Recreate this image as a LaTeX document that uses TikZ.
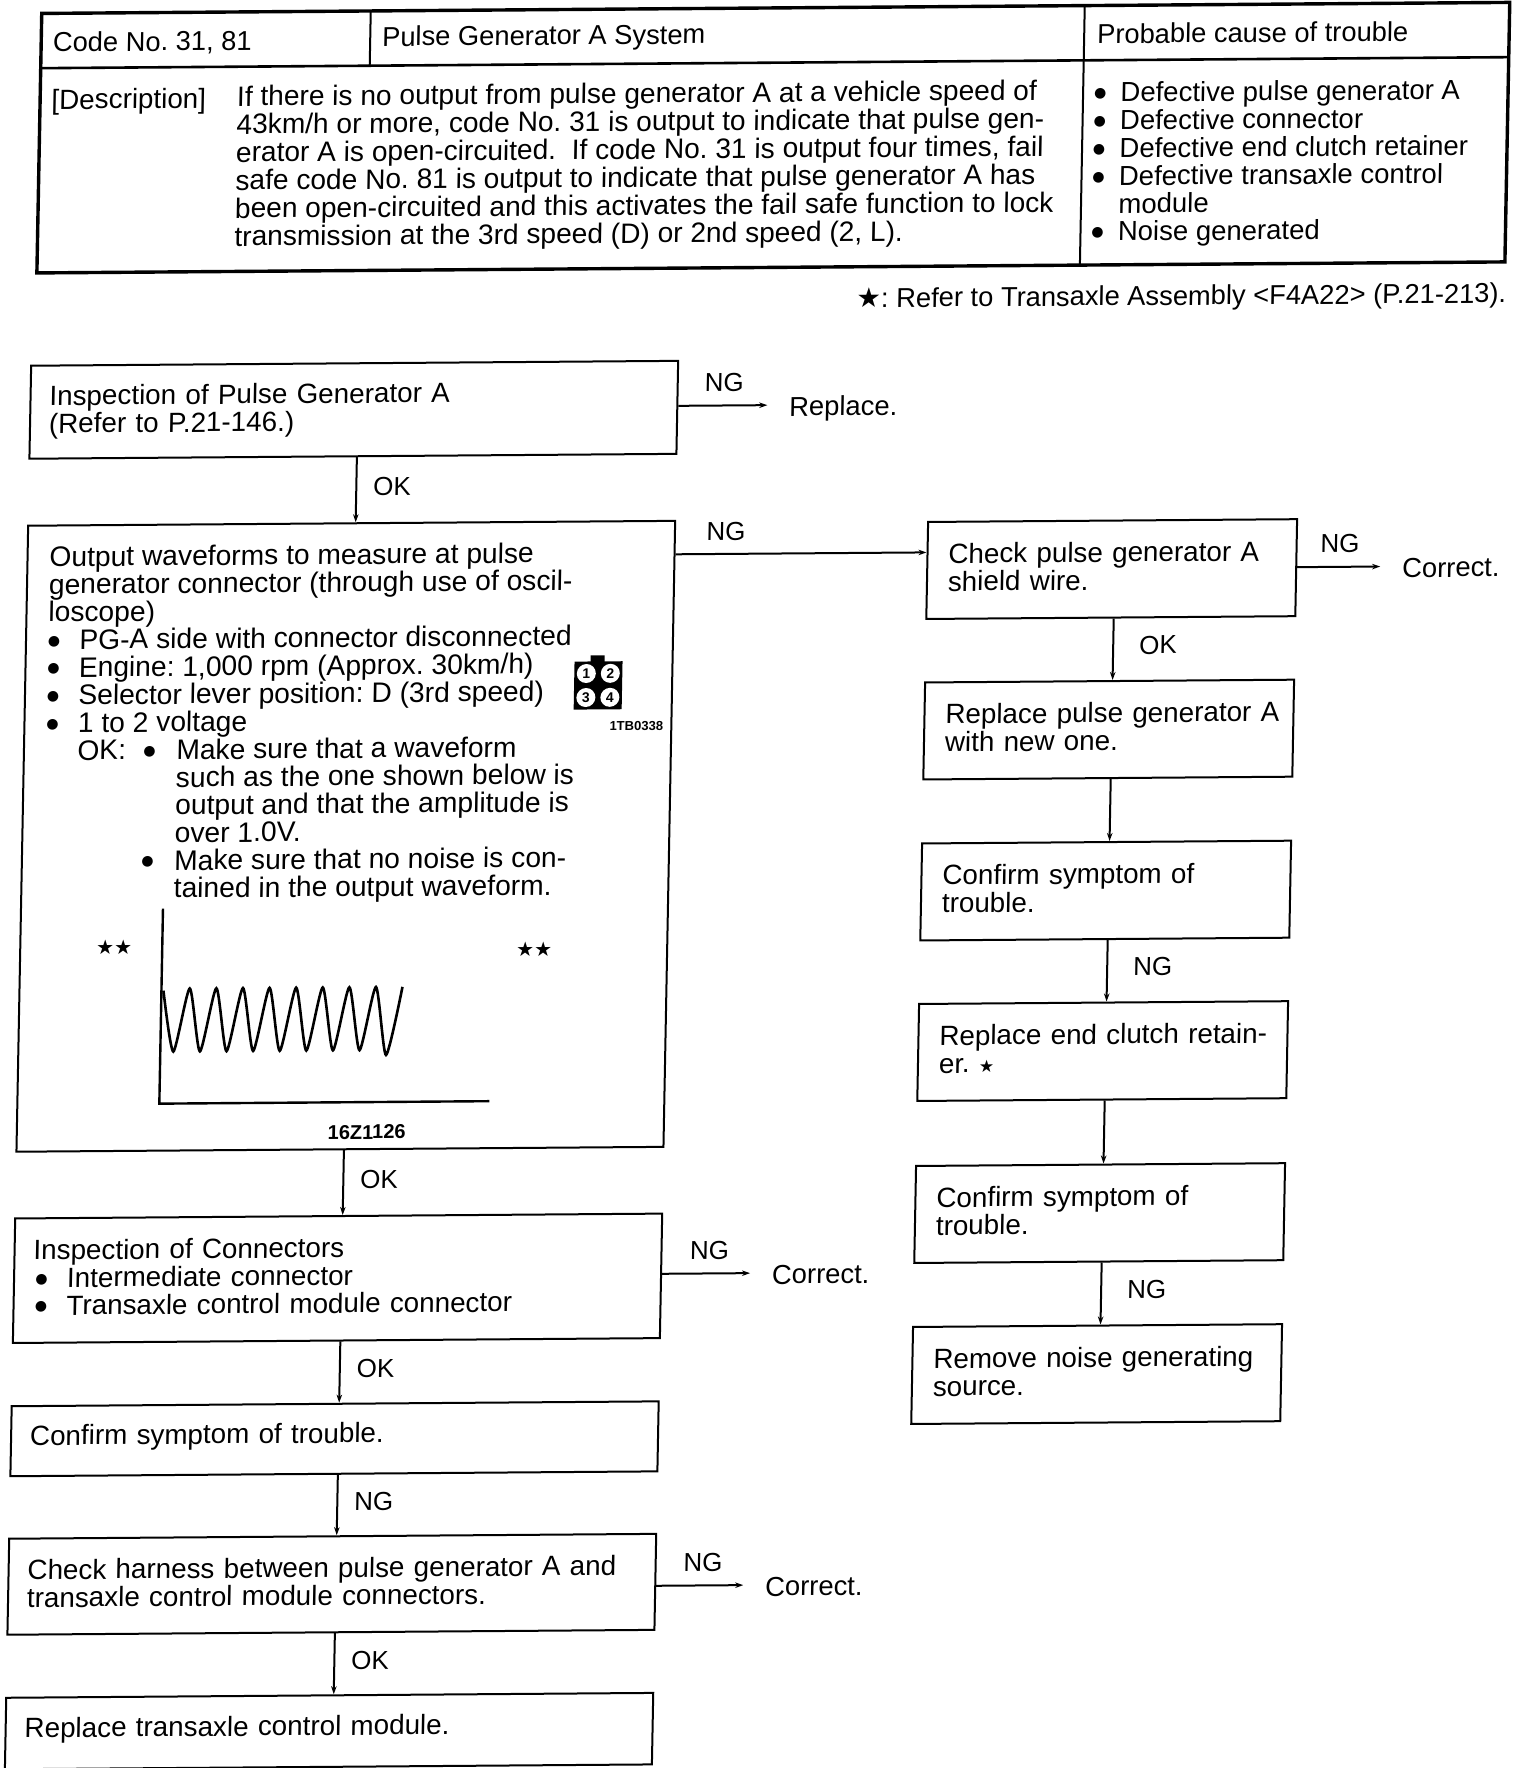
\documentclass[tikz,border=0pt]{standalone}
\usepackage{fontspec}
\setmainfont{Liberation Sans}
\newfontfamily\symfont{DejaVu Sans}
\usetikzlibrary{arrows.meta}
\newcommand{\dotmark}{\raisebox{4.5pt}{\symfont\fontsize{14}{14}\selectfont ●}}
\newcommand{\bul}{\makebox[31.5pt][l]{\dotmark}}
\newcommand{\subbul}{\makebox[33pt][l]{\dotmark}}
\newcommand{\causebul}{\makebox[26.5pt][l]{\dotmark}}
\newcommand{\blackstar}{{\symfont ★}}
\newcommand{\liftamt}{6pt}
\newcommand{\liftbox}{\par\vspace{\liftamt}}
\begin{document}
\frenchspacing
\begin{tikzpicture}[x=1pt, y=1pt, line width=2pt,
		font=\fontsize{27.8}{27.8}\selectfont,
		flowbox/.style={draw, align=left, inner ysep=0pt, inner xsep=19pt, anchor=center, execute at end node=\liftbox},
		leftbox/.style={flowbox, text width=609pt},
		rightbox/.style={flowbox, inner xsep=21pt, text width=327pt, minimum height=97pt},
		plaintext/.style={inner sep=0pt, align=left, anchor=north west},
		conn/.style={-{Stealth[length=8pt,width=5.5pt]}},
		lbl/.style={inner sep=0pt, font=\fontsize{26}{26}\selectfont},
		result/.style={inner sep=0pt, inner xsep=21pt, anchor=west, text height=22pt, text depth=0pt, font=\fontsize{27.4}{27.4}\selectfont}]
	\useasboundingbox (0,0) rectangle (1520,-1768);
	\begin{scope}[cm={1,0.0075,0.0187,1,(0,0)}, every node/.append style={transform shape}]
		% ---- header table ----
		\node[draw, line width=3.4pt, minimum width=1468pt, minimum height=259.5pt, inner sep=0pt] (hdr) at (776,-143.5) {};
		\draw[line width=2.6pt] (42,-68.5) -- (1510,-68.5);
		\draw[line width=2pt] (371,-13.5) -- (371,-68.5);
		\draw[line width=2pt] (1085,-13.5) -- (1085,-273);
		\node[lbl, anchor=west, font=\fontsize{27.3}{27.3}\selectfont] (hdrcode) at (52.8,-44) {Code No. 31, 81};
		\node[lbl, anchor=west, font=\fontsize{27.3}{27.3}\selectfont] (hdrname) at (382,-42) {Pulse Generator A System};
		\node[lbl, anchor=west, font=\fontsize{27.3}{27.3}\selectfont] (hdrcause) at (1097,-42) {Probable cause of trouble};
		\node[plaintext] (hdrdesc) at (52.5,-88.5) {[Description]};
		\node[plaintext, font=\fontsize{28.1}{28}\selectfont] (desctext) at (238,-86.5) {If there is no output from pulse generator A at a vehicle speed of\\
			43km/h or more, code No. 31 is output to indicate that pulse gen-\\
			erator A is open-circuited.\ \ If code No. 31 is output four times, fail\\
			safe code No. 81 is output to indicate that pulse generator A has\\
			been open-circuited and this activates the fail safe function to lock\\
			transmission at the 3rd speed (D) or 2nd speed (2, L).};
		\node[plaintext, font=\fontsize{27.5}{27.8}\selectfont] (causes) at (1095,-89.5) {\causebul Defective pulse generator A\\
			\causebul Defective connector\\
			\causebul Defective end clutch retainer\\
			\causebul Defective transaxle control\\
			\hspace*{26.5pt}module\\
			\causebul Noise generated};
		\node[lbl, anchor=east, font=\fontsize{27.3}{27.3}\selectfont] (starnote) at (1513,-307) {\blackstar: Refer to Transaxle Assembly <F4A22> (P.21-213).};
		% ---- left column ----
		\node[leftbox, minimum height=93pt, execute at begin node=\renewcommand{\liftamt}{0pt}] (insp) at (361.5,-412.5) {Inspection of Pulse Generator A\\(Refer to P.21-146.)};
		\node[leftbox, minimum height=626pt] (wave) at (361.5,-839) {};
		\node[leftbox, minimum height=124.5pt] (conns) at (361.5,-1281) {Inspection of Connectors\\
			\hspace*{2.5pt}\bul Intermediate connector\\
			\hspace*{2.5pt}\bul Transaxle control module connector};
		\node[leftbox, minimum height=70pt] (conf) at (361.5,-1441.5) {Confirm symptom of trouble.};
		\node[leftbox, minimum height=96pt] (harn) at (361.5,-1587) {Check harness between pulse generator A and\\transaxle control module connectors.};
		\node[leftbox, minimum height=71.5pt] (tcm) at (361.5,-1733.8) {Replace transaxle control module.};
		% ---- waveform box contents ----
		\node[plaintext, font=\fontsize{28.2}{27.7}\selectfont] (wavetext) at (59,-545.5) {Output waveforms to measure at pulse\\
			generator connector (through use of oscil-\\
			loscope)\\
			\bul PG-A side with connector disconnected\\
			\bul Engine: 1,000 rpm (Approx. 30km/h)\\
			\bul Selector lever position: D (3rd speed)\\
			\bul 1 to 2 voltage\\
			\hspace*{31.5pt}\makebox[66pt][l]{OK:}\subbul Make sure that a waveform\\
			\hspace*{130.5pt}such as the one shown below is\\
			\hspace*{130.5pt}output and that the amplitude is\\
			\hspace*{130.5pt}over 1.0V.\\
			\hspace*{97.5pt}\subbul Make sure that no noise is con-\\
			\hspace*{130.5pt}tained in the output waveform.};
		\draw[line width=2.4pt] (180,-910) -- (180,-1105) -- (510,-1105);
		\draw[line width=2.6pt] plot[smooth, tension=0.4] coordinates {(182,-992) (193,-1053) (208.3,-990) (219.6,-1053) (234.9,-990) (246.2,-1053) (261.5,-990) (272.8,-1053) (288.1,-990) (299.4,-1053) (314.7,-990) (326,-1053) (341.3,-990) (352.6,-1053) (367.9,-990) (379.2,-1053) (394.5,-990) (405.8,-1058) (421,-990)};
		\node[lbl, font=\symfont\fontsize{20}{20}\selectfont] (starsl) at (132,-948) {★★};
		\node[lbl, font=\symfont\fontsize{20}{20}\selectfont] (starsr) at (552,-953) {★★};
		\node[lbl, font=\bfseries\fontsize{20}{20}\selectfont] (wavecode) at (388,-1135) {16Z1126};
		% ---- connector symbol ----
		\fill (587,-666) rectangle (635,-714);
		\fill (603,-660) rectangle (617,-667);
		\foreach \n/\cx/\cy in {1/599/-678, 2/623/-678, 3/599/-702, 4/623/-702}
			\node[circle, fill=white, inner sep=0pt, minimum size=19pt, font=\bfseries\fontsize{14}{14}\selectfont] (pin\n) at (\cx,\cy) {\n};
		\node[lbl, font=\bfseries\fontsize{13}{13}\selectfont] (pincode) at (650,-731) {1TB0338};
		% ---- right column ----
		\node[rightbox] (shield) at (1122.5,-577.5) {Check pulse generator A\\shield wire.};
		\node[rightbox] (repl) at (1122.5,-738) {\mbox{Replace pulse generator A}\\with new one.};
		\node[rightbox] (conf2) at (1122.5,-899) {Confirm symptom of\\trouble.};
		\node[rightbox] (clutch) at (1122.5,-1059.5) {\mbox{Replace end clutch retain-}\\er. {\fontsize{17}{17}\selectfont\blackstar}};
		\node[rightbox] (conf3) at (1122.5,-1221.5) {Confirm symptom of\\trouble.};
		\node[rightbox] (noise) at (1122.5,-1382.5) {Remove noise generating\\source.};
		% ---- results ----
		\node[result] (rplc) at (775,-411) {Replace.};
		\node[result] (corr1) at (1391,-577) {Correct.};
		\node[result] (corr2) at (774,-1279) {Correct.};
		\node[result] (corr3) at (773,-1591) {Correct.};
		% ---- connectors ----
		\foreach \a/\b/\t in {insp/wave/OK, wave/conns/OK, conns/conf/OK, conf/harn/NG, harn/tcm/OK}
			\draw[conn] ([xshift=4pt]\a.south) -- ([xshift=4pt]\b.north) node[midway, lbl, anchor=west, xshift=16pt, yshift=3pt] {\t};
		\foreach \a/\b/\t in {shield/repl/OK, repl/conf2/, conf2/clutch/NG, clutch/conf3/, conf3/noise/NG}
			\draw[conn] ([xshift=3pt]\a.south) -- ([xshift=3pt]\b.north) node[midway, lbl, anchor=west, xshift=25pt, yshift=4pt] {\t};
		\foreach \a/\b in {insp/rplc, shield/corr1}
			\draw[conn] (\a.east |- \b.west) -- (\b.west) node[midway, lbl, anchor=south, xshift=1pt, yshift=13pt] {NG};
		\foreach \a/\b in {conns/corr2, harn/corr3}
			\draw[conn] (\a.east |- \b.west) -- (\b.west) node[midway, lbl, anchor=south, xshift=3pt, yshift=13pt] {NG};
		\coordinate (shieldin) at ([yshift=18pt]shield.west);
		\draw[conn] (wave.east |- shieldin) -- (shieldin) node[pos=0.2, lbl, anchor=south, yshift=12pt] {NG};
	\end{scope}
\end{tikzpicture}
\end{document}
